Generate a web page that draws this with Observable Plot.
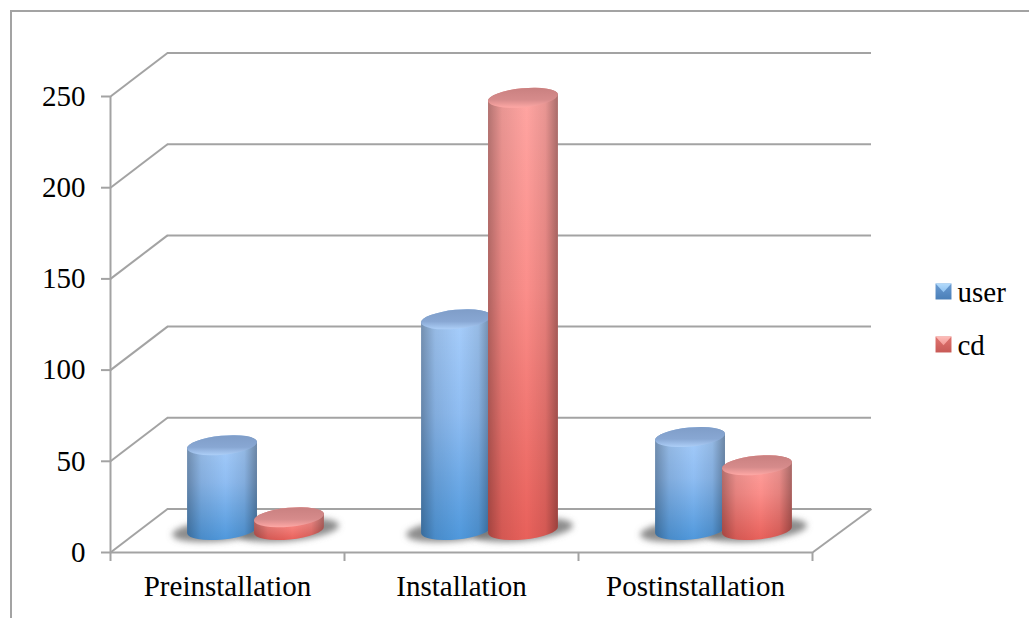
<!DOCTYPE html>
<html>
<head>
<meta charset="utf-8">
<script src="https://cdn.jsdelivr.net/npm/d3@7"></script>
<script src="https://cdn.jsdelivr.net/npm/@observablehq/plot@0.6"></script>
<style>
html,body{margin:0;padding:0;background:#fff;overflow:hidden}
#frame{position:absolute;left:10px;top:10px;right:0;bottom:0;border-top:2px solid #a3a3a3;border-left:2px solid #a3a3a3}
#chart{position:absolute;left:0;top:0}
svg{display:block}
</style>
</head>
<body>
<div id="frame"></div>
<div id="chart"></div>
<script>
const categories = ["Preinstallation", "Installation", "Postinstallation"];
const seriesNames = ["user", "cd"];
const userValues = [46.5, 115.5, 51];
const cdValues = [7, 237, 35.5];
const yTicks = [0, 50, 100, 150, 200, 250];
const xTicks = [0, 1, 2, 3];

const WIDTH = 1029, HEIGHT = 618;
const ML = 110, MR = 217, MT = 96, MB = 66;
const FONT = "Liberation Serif", FS = 29;
const GRID = "#a3a3a3";
const depthX = 57 / 234, depthY = 43.5 / 1.824;
const barW = 0.30;
const tiltDeg = 5.5, tilt = tiltDeg * Math.PI / 180, capRy = 9.5;

const rows = seriesNames.map((s, k) => categories.map((c, i) => {
  const v = (k === 0 ? userValues : cdValues)[i];
  const x1 = k === 0 ? i + 0.5 - barW + 0.007 : i + 0.5 - 0.007;
  return {series: s, cat: c, x1, x2: x1 + barW, v};
}));

function ends(cx, y, rx) {
  const a = rx * Math.cos(tilt), b = rx * Math.sin(tilt);
  return [[cx - a, y + b], [cx + a, y - b]];
}
function cyl(kind) {
  return (I, scales, values, dims, ctx, next) => {
    const g = next(I, scales, values, dims, ctx);
    for (const r of [...g.querySelectorAll("rect")]) {
      const x = +r.getAttribute("x"), y = +r.getAttribute("y");
      const w = +r.getAttribute("width"), h = +r.getAttribute("height");
      const cx = x + w / 2, rx = w / 2, yb = y + h;
      const p = document.createElementNS("http://www.w3.org/2000/svg", "path");
      let d;
      if (kind === "body") {
        const [lt, rt] = ends(cx, y, rx), [lb, rb] = ends(cx, yb, rx);
        d = `M${lt}L${lb}A${rx},${capRy} ${-tiltDeg} 0 0 ${rb}L${rt}A${rx},${capRy} ${-tiltDeg} 0 0 ${lt}Z`;
      } else if (kind === "top") {
        const [l, rr] = ends(cx, y, rx);
        d = `M${l}A${rx},${capRy} ${-tiltDeg} 1 0 ${rr}A${rx},${capRy} ${-tiltDeg} 1 0 ${l}Z`;
      } else {
        const R = rx + 15;
        const [l, rr] = ends(cx, yb, R);
        d = `M${l}A${R},11 ${-tiltDeg} 1 0 ${rr}A${R},11 ${-tiltDeg} 1 0 ${l}Z`;
        p.setAttribute("filter", "url(#soft)");
      }
      p.setAttribute("d", d);
      r.replaceWith(p);
    }
    return g;
  };
}

const defs = () => d3.create("svg:defs").html(`
  <linearGradient id="userBody" x1="0" y1="0" x2="0" y2="1">
    <stop offset="0" stop-color="#a9cffc"/><stop offset="0.45" stop-color="#8fbdf2"/><stop offset="1" stop-color="#4f98dc"/>
  </linearGradient>
  <linearGradient id="cdBody" x1="0" y1="0" x2="0" y2="1">
    <stop offset="0" stop-color="#ffa6a3"/><stop offset="0.45" stop-color="#fb8e8a"/><stop offset="1" stop-color="#e8605a"/>
  </linearGradient>
  <linearGradient id="shade" x1="0" y1="0" x2="1" y2="0">
    <stop offset="0" stop-color="#000" stop-opacity="0.3"/>
    <stop offset="0.2" stop-color="#000" stop-opacity="0.09"/>
    <stop offset="0.55" stop-color="#000" stop-opacity="0"/>
    <stop offset="0.82" stop-color="#000" stop-opacity="0.09"/>
    <stop offset="1" stop-color="#000" stop-opacity="0.34"/>
  </linearGradient>
  <linearGradient id="userTop" x1="0" y1="0" x2="0" y2="1">
    <stop offset="0" stop-color="#7f9dc8"/><stop offset="0.6" stop-color="#88a7d3"/><stop offset="1" stop-color="#adcff8"/>
  </linearGradient>
  <linearGradient id="cdTop" x1="0" y1="0" x2="0" y2="1">
    <stop offset="0" stop-color="#c98080"/><stop offset="0.6" stop-color="#d68b8b"/><stop offset="1" stop-color="#ffa8a5"/>
  </linearGradient>
  <linearGradient id="userKey" x1="0" y1="0" x2="0" y2="1">
    <stop offset="0" stop-color="#6a9bd2"/><stop offset="1" stop-color="#4a7fb8"/>
  </linearGradient>
  <linearGradient id="cdKey" x1="0" y1="0" x2="0" y2="1">
    <stop offset="0" stop-color="#e07470"/><stop offset="1" stop-color="#c85a56"/>
  </linearGradient>
  <linearGradient id="userKeyTop" x1="0" y1="0" x2="0" y2="1">
    <stop offset="0" stop-color="#b4dbfb"/><stop offset="1" stop-color="#8cc0f0"/>
  </linearGradient>
  <linearGradient id="cdKeyTop" x1="0" y1="0" x2="0" y2="1">
    <stop offset="0" stop-color="#fdbdb9"/><stop offset="1" stop-color="#f29792"/>
  </linearGradient>
  <filter id="soft" x="-20%" y="-50%" width="140%" height="200%"><feGaussianBlur stdDeviation="3"/></filter>
`).node();

const triangleDown = {
  draw(c, size) {
    const s = Math.sqrt(size);
    c.moveTo(-s / 2, -s / 2); c.lineTo(s / 2, -s / 2); c.lineTo(0, s * 0.05); c.closePath();
  }
};

const shared = () => ({x1: "x1", x2: "x2", y1: 0, y2: "v", dx: 28.5, dy: -22});

const legendMarks = seriesNames.flatMap((s, k) => {
  const dy = 195 + k * 53;
  return [
    Plot.dot([s], {frameAnchor: "top-left", dx: 833, dy, symbol: "square", r: 9, fill: `url(#${s}Key)`, stroke: "none"}),
    Plot.dot([s], {frameAnchor: "top-left", dx: 833, dy, symbol: triangleDown, r: 9, fill: `url(#${s}KeyTop)`, stroke: "none"}),
    Plot.text([s], {frameAnchor: "top-left", dx: 847, dy: dy + 1, text: d => d, textAnchor: "start", lineAnchor: "middle", fontSize: FS, fontFamily: FONT, fill: "#000"})
  ];
});

const plot = Plot.plot({
  width: WIDTH, height: HEIGHT,
  marginLeft: ML, marginRight: MR, marginTop: MT, marginBottom: MB,
  style: {fontFamily: FONT, background: "transparent", color: "#000", overflow: "visible"},
  x: {type: "linear", domain: [0, 3], range: [ML, WIDTH - MR]},
  y: {domain: [0, 250], range: [HEIGHT - MB, MT]},
  marks: [
    defs,
    Plot.ruleY(yTicks, {x1: 0, x2: 3 + 2 / 234, dx: 57, dy: -43.5, stroke: GRID, strokeWidth: 2}),
    Plot.link(yTicks, {x1: 0, x2: depthX, y1: d => d, y2: d => d + depthY, stroke: GRID, strokeWidth: 2}),
    Plot.link([0], {x1: 3, x2: 3 + 59 / 234, y1: 0, y2: depthY, stroke: GRID, strokeWidth: 2}),
    Plot.ruleX([0], {y1: 0, y2: 250, stroke: GRID, strokeWidth: 2}),
    Plot.ruleY([0], {x1: 0, x2: 3, stroke: GRID, strokeWidth: 2}),
    Plot.axisY({ticks: yTicks, tickSize: 9, tickPadding: 16, stroke: GRID, strokeWidth: 2, fontSize: FS, fontFamily: FONT, label: null, fill: "#000"}),
    Plot.axisX({ticks: xTicks, tickSize: 9, tickFormat: () => "", stroke: GRID, strokeWidth: 2, label: null}),
    Plot.axisX({ticks: [0.5, 1.5, 2.5], tickSize: 0, tickPadding: 23, tickFormat: d => categories[Math.floor(d)], fontSize: FS, fontFamily: FONT, label: null, fill: "#000"}),
    ...rows.map(r => Plot.rect(r, {...shared(), fill: "#707070", fillOpacity: 0.8, render: cyl("shadow")})),
    ...rows.flatMap((r, k) => [
      Plot.rect(r, {...shared(), fill: `url(#${seriesNames[k]}Body)`, render: cyl("body")}),
      Plot.rect(r, {...shared(), fill: "url(#shade)", render: cyl("body")}),
      Plot.rect(r, {...shared(), fill: `url(#${seriesNames[k]}Top)`, render: cyl("top")})
    ]),
    ...legendMarks
  ]
});
document.getElementById("chart").appendChild(plot);
</script>
</body>
</html>
